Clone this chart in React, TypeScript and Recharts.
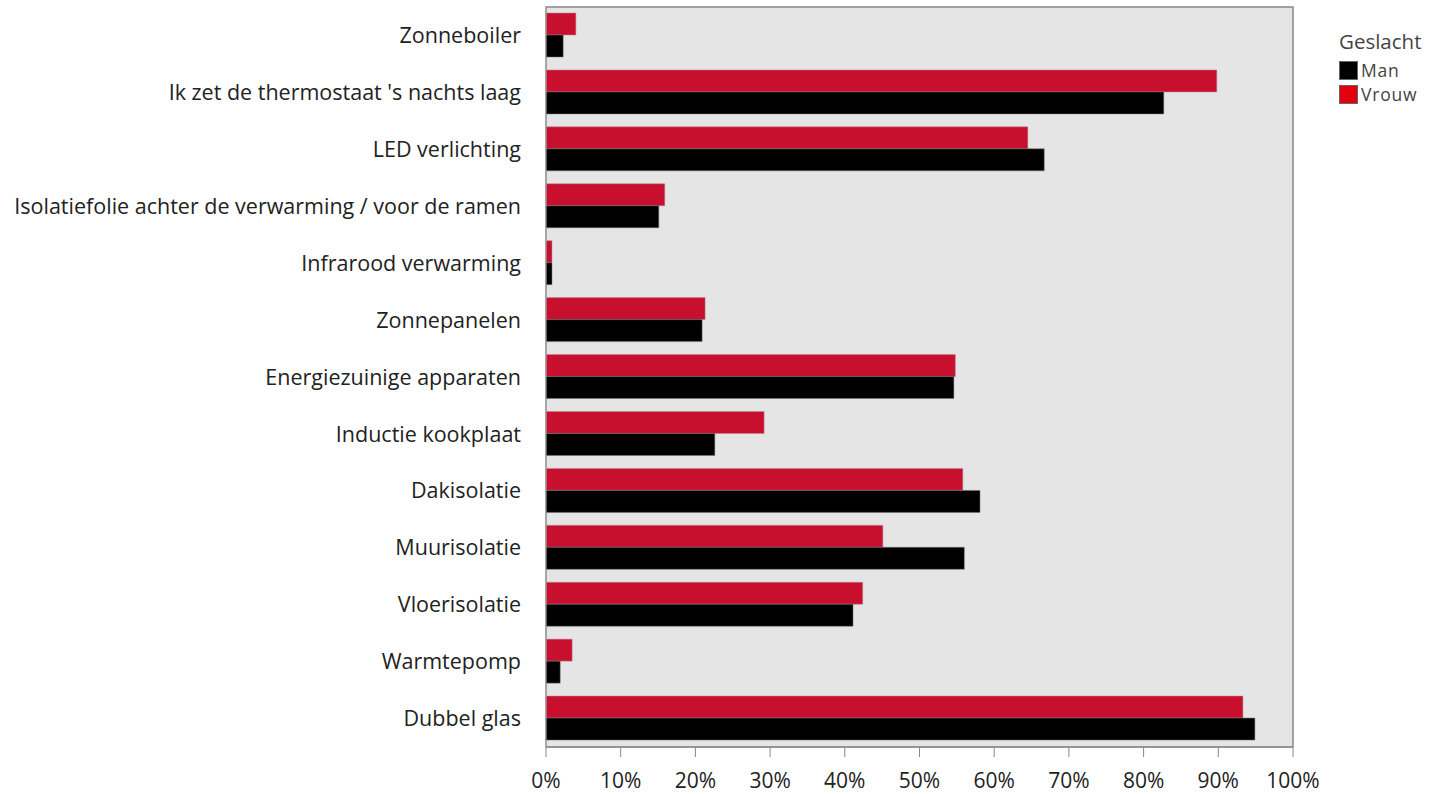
import { BarChart, Bar, XAxis, YAxis, CartesianGrid, ReferenceArea } from 'recharts'

const maatregelen = [
  'Zonneboiler',
  "Ik zet de thermostaat 's nachts laag",
  'LED verlichting',
  'Isolatiefolie achter de verwarming / voor de ramen',
  'Infrarood verwarming',
  'Zonnepanelen',
  'Energiezuinige apparaten',
  'Inductie kookplaat',
  'Dakisolatie',
  'Muurisolatie',
  'Vloerisolatie',
  'Warmtepomp',
  'Dubbel glas',
]

const man = [2.3, 82.7, 66.7, 15.1, 0.8, 20.9, 54.6, 22.6, 58.1, 56.0, 41.1, 1.9, 94.9]
const vrouw = [4.0, 89.8, 64.5, 15.9, 0.8, 21.3, 54.8, 29.2, 55.8, 45.1, 42.4, 3.5, 93.3]

const xTicks = [0, 10, 20, 30, 40, 50, 60, 70, 80, 90, 100]

const RED = '#c8102e'
const FONT = '"Open Sans", sans-serif'

const data = maatregelen.map((name, i) => ({ name, man: man[i], vrouw: vrouw[i] }))

export default function App() {
  return (
    <div style={{ position: 'absolute', left: 0, top: 0, width: 1429, height: 794, fontFamily: FONT }}>
      <BarChart
        width={1429}
        height={794}
        data={data}
        layout="vertical"
        margin={{ top: 7, right: 136, left: 0, bottom: 0 }}
        barGap={0}
        barSize={22}
      >
        <CartesianGrid horizontal={false} vertical={false} fill="#e5e5e5" />
        <XAxis
          type="number"
          domain={[0, 100]}
          ticks={xTicks}
          interval={0}
          tickFormatter={(v: number) => `${v}%`}
          height={47}
          tickSize={10}
          tickMargin={16}
          axisLine={{ stroke: '#888' }}
          tickLine={{ stroke: '#888' }}
          tick={{ fill: '#222', fontSize: 21, fontFamily: FONT }}
        />
        <YAxis
          type="category"
          dataKey="name"
          width={546}
          interval={0}
          tickLine={false}
          tickSize={10}
          tickMargin={15}
          axisLine={{ stroke: '#aaa' }}
          tick={{ fill: '#222', fontSize: 21.5, fontFamily: FONT }}
        />
        <Bar dataKey="vrouw" fill={RED} stroke="#b89" strokeWidth={0.5} isAnimationActive={false} />
        <Bar dataKey="man" fill="#000" stroke="#777" strokeWidth={0.5} isAnimationActive={false} />
        <ReferenceArea x1={0} x2={100} fill="none" stroke="#888" strokeWidth={1.5} />
      </BarChart>
      <div style={{ position: 'absolute', left: 1339, top: 29, color: '#444', fontSize: 20.5, lineHeight: '24px' }}>
        <div style={{ marginBottom: 5 }}>Geslacht</div>
        {[
          { label: 'Man', color: '#000' },
          { label: 'Vrouw', color: '#e0000f' },
        ].map((item) => (
          <div
            key={item.label}
            style={{
              display: 'flex',
              alignItems: 'center',
              height: 24,
              lineHeight: '20px',
              fontSize: 17.5,
              letterSpacing: 0.8,
            }}
          >
            <span
              style={{
                display: 'inline-block',
                width: 17,
                height: 17,
                background: item.color,
                border: '1px solid #666',
                marginRight: 3,
              }}
            />
            <span>{item.label}</span>
          </div>
        ))}
      </div>
    </div>
  )
}
